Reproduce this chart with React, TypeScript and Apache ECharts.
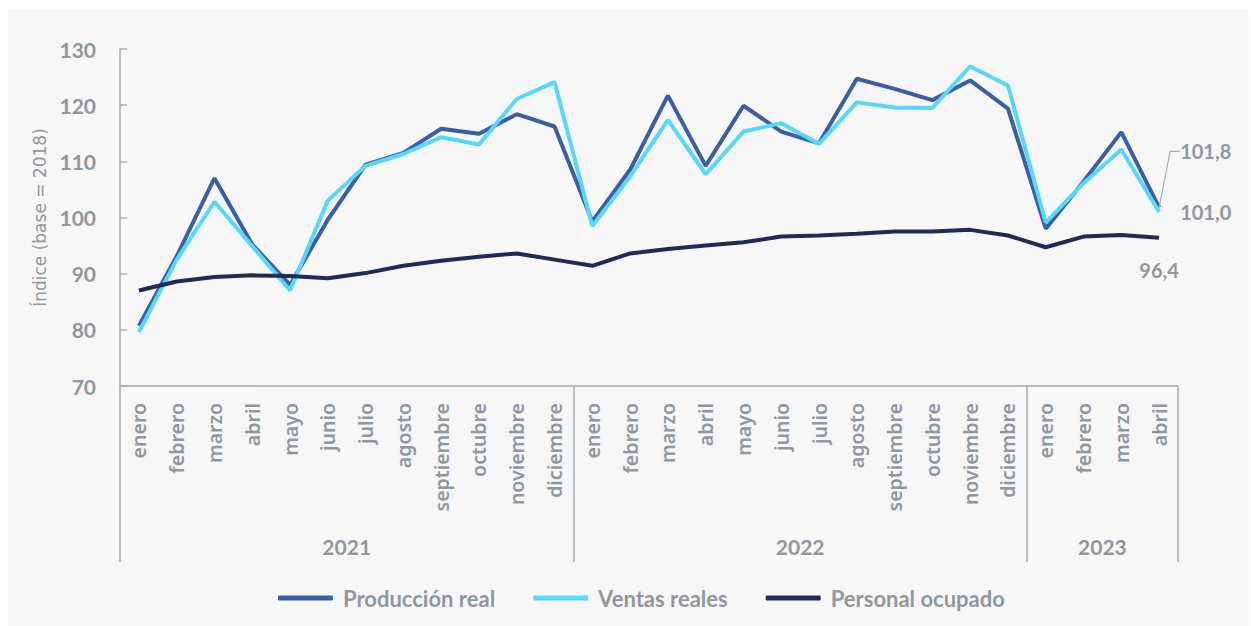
import React, { useEffect, useRef } from "react";
import * as echarts from "echarts";

const monthNames = ["enero", "febrero", "marzo", "abril", "mayo", "junio", "julio", "agosto", "septiembre", "octubre", "noviembre", "diciembre"];
const years = ["2021", "2022", "2023"];
const monthsPerYear = [12, 12, 4];

const produccionReal = [80.7, 93.1, 107.0, 95.2, 88.0, 99.6, 109.4, 111.5, 115.8, 114.9, 118.4, 116.2, 99.3, 108.5, 121.7, 109.2, 119.9, 115.3, 113.2, 124.7, 122.9, 120.9, 124.4, 119.4, 98.0, 106.4, 115.2, 101.8];
const ventasReales = [79.6, 92.5, 102.8, 94.9, 87.0, 103.0, 109.2, 111.3, 114.3, 113.0, 121.1, 124.1, 98.5, 107.3, 117.4, 107.7, 115.3, 116.8, 113.1, 120.5, 119.6, 119.5, 126.9, 123.5, 99.1, 106.1, 112.1, 101.0];
const personalOcupado = [87.0, 88.6, 89.4, 89.7, 89.6, 89.2, 90.1, 91.4, 92.3, 93.0, 93.6, 92.5, 91.4, 93.6, 94.4, 95.0, 95.6, 96.6, 96.8, 97.1, 97.5, 97.5, 97.8, 96.8, 94.7, 96.6, 96.9, 96.4];

const yTicks = [70, 80, 90, 100, 110, 120, 130];

const GRAY = "#8f979f";
const AXIS = "#a4abb2";

const fmt = (v: number) => v.toFixed(1).replace(".", ",");

export default function App() {
  const ref = useRef<HTMLDivElement>(null);
  useEffect(() => {
    if (!ref.current) return;
    const chart = echarts.init(ref.current, undefined, { renderer: "svg" });

    const categories: string[] = [];
    years.forEach((_, i) => monthNames.slice(0, monthsPerYear[i]).forEach((m) => categories.push(m)));
    const bounds: number[] = [0];
    monthsPerYear.forEach((n) => bounds.push(bounds[bounds.length - 1] + n));
    const centers = monthsPerYear.map((n, i) => bounds[i] + n / 2);
    const total = bounds[bounds.length - 1];
    const last = categories.length - 1;

    const withLastLabel = (arr: number[], label: any) =>
      arr.map((v, i) => (i === last ? { value: v, label: { show: true, formatter: fmt(v), ...label } } : v));

    const labelText = { color: GRAY, fontFamily: "Lato", fontWeight: "bold", fontSize: 20 };

    chart.setOption({
      animation: false,
      backgroundColor: "transparent",
      grid: { left: 112, right: 71, top: 39, bottom: 240, containLabel: false, outerBoundsMode: "none" },
      legend: {
        left: 265,
        top: 572,
        icon: "roundRect",
        itemWidth: 55,
        itemHeight: 5,
        itemGap: 38,
        textStyle: { color: GRAY, fontFamily: "Lato", fontWeight: "bold", fontSize: 22, padding: [0, 0, 0, 5] },
        data: ["Producción real", "Ventas reales", "Personal ocupado"],
      },
      xAxis: [
        {
          type: "category",
          data: categories,
          boundaryGap: true,
          axisLine: { show: true, lineStyle: { color: AXIS, width: 1.5 } },
          axisTick: { show: false },
          axisLabel: { interval: 0, rotate: 90, margin: 17, color: GRAY, fontFamily: "'Noto Sans'", fontWeight: 600, fontSize: 19.5 },
          splitLine: { show: false },
        },
        {
          type: "value",
          min: 0,
          max: total,
          position: "bottom",
          axisLine: { show: false },
          splitLine: { show: false },
          axisTick: { show: true, customValues: bounds, length: 176, lineStyle: { color: AXIS, width: 1.5 } },
          axisLabel: {
            customValues: centers,
            margin: 150,
            color: GRAY,
            fontFamily: "Lato",
            fontWeight: "bold",
            fontSize: 21,
            formatter: (v: number) => years[centers.indexOf(v)] ?? "",
          },
        },
      ],
      yAxis: {
        type: "value",
        min: yTicks[0],
        max: yTicks[yTicks.length - 1],
        interval: 10,
        name: "Índice (base = 2018)",
        nameLocation: "middle",
        nameGap: 68,
        nameTextStyle: { color: GRAY, fontFamily: "'DejaVu Sans'", fontSize: 17 },
        axisLine: { show: true, lineStyle: { color: AXIS, width: 1.5 } },
        axisTick: { show: true, inside: true, length: 7, lineStyle: { color: AXIS, width: 1.5 } },
        axisLabel: { margin: 24, ...labelText, fontSize: 21 },
        splitLine: { show: false },
      },
      series: [
        {
          name: "Producción real",
          type: "line",
          data: withLastLabel(produccionReal, { position: "right", distance: 5, padding: [0, 0, 0, 8], ...labelText }),
          symbol: "circle",
          symbolSize: 0.1,
          showSymbol: true,
          showAllSymbol: true,
          color: "#3a5fa5",
          lineStyle: { width: 4, color: "#3a5fa5" },
          labelLayout: { dx: 8, dy: -56 },
          labelLine: { show: true, length2: 10, lineStyle: { color: "#a9acb0", width: 1.2 } },
          z: 2,
        },
        {
          name: "Ventas reales",
          type: "line",
          data: withLastLabel(ventasReales, { position: "right", distance: 21, ...labelText }),
          symbol: "circle",
          symbolSize: 0.1,
          showSymbol: true,
          showAllSymbol: true,
          color: "#55d8fb",
          lineStyle: { width: 4, color: "#55d8fb" },
          z: 3,
        },
        {
          name: "Personal ocupado",
          type: "line",
          data: withLastLabel(personalOcupado, { position: "bottom", distance: 22, ...labelText }),
          symbol: "circle",
          symbolSize: 0.1,
          showSymbol: true,
          showAllSymbol: true,
          color: "#1f2a58",
          lineStyle: { width: 4, color: "#1f2a58" },
          z: 4,
        },
      ],
    });
    return () => chart.dispose();
  }, []);

  return (
    <div
      ref={ref}
      style={{ position: "absolute", left: 8, top: 10, width: 1241, height: 616, background: "#f7f7f7" }}
    />
  );
}
